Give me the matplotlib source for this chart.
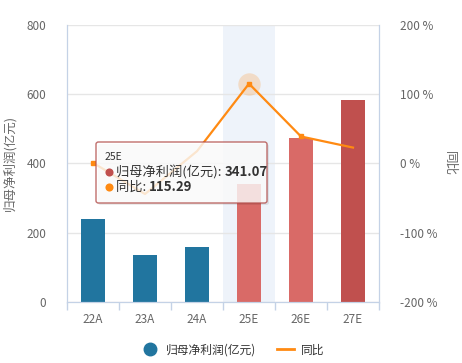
import matplotlib
matplotlib.use('Agg')
import matplotlib.pyplot as plt
from matplotlib.lines import Line2D
from matplotlib.patches import FancyBboxPatch
import numpy as np

plt.rcParams['font.family'] = ['Noto Sans CJK SC', 'DejaVu Sans']

# data
categories = ['22A', '23A', '24A', '25E', '26E', '27E']
profit = [240.5, 134.5, 158.4, 341.07, 474.0, 584.0]
yoy = [1.0, -44.1, 17.8, 115.29, 39.0, 23.0]
bar_colors = ['#21759f', '#21759f', '#21759f', '#d96a67', '#d96a67', '#c0504e']

line_color = '#ff8a12'
axis_color = '#c4d2e6'
grid_color = '#e6e6e6'
tick_color = '#666666'
text_color = '#333333'

W, H = 462, 363
fig = plt.figure(figsize=(W / 100, H / 100), dpi=100)
ax = fig.add_axes([67 / W, 61 / H, 312 / W, 277 / H])
ax2 = ax.twinx()

x = np.arange(len(categories))

# hover band behind 25E
ax.axvspan(2.5, 3.5, color='#eef3fa', zorder=0, lw=0)
ax.bar(x, profit, width=0.46, color=bar_colors, zorder=2)

ax.set_xlim(-0.5, len(categories) - 0.5)
ax.set_ylim(0, 800)
ax.set_yticks([0, 200, 400, 600, 800])
ax.yaxis.grid(True, color=grid_color, lw=1, zorder=1)
ax.set_axisbelow(True)
ax.set_xticks(x)
ax.set_xticklabels(categories)
ax.set_xticks(np.arange(-0.5, len(categories)), minor=True)
ax.tick_params(axis='x', which='major', length=0, pad=8, labelsize=8.5, colors=tick_color)
ax.tick_params(axis='x', which='minor', length=6, color=axis_color, width=1)
ax.tick_params(axis='y', length=0, pad=15, labelsize=8.5, colors=tick_color)
ax.set_ylabel('归母净利润(亿元)', color=tick_color, fontsize=9)
ax.yaxis.set_label_coords((16 - 67) / 312, 0.5)

for a in (ax, ax2):
    a.spines['top'].set_visible(False)
    for s in ('left', 'right', 'bottom'):
        a.spines[s].set_color(axis_color)

# yoy line on right axis
ax2.plot(x, yoy, color=line_color, lw=1.6, marker='s', markersize=3.5,
         markevery=[0, 3, 4], zorder=5)
ax2.scatter([3], [yoy[3]], s=260, color=line_color, alpha=0.22, lw=0, zorder=4)
ax2.set_ylim(-200, 200)
ax2.set_yticks([-200, -100, 0, 100, 200])
ax2.set_yticklabels([f'{v} %' for v in [-200, -100, 0, 100, 200]])
ax2.tick_params(axis='y', length=0, pad=15, labelsize=8.5, colors=tick_color)
ax2.set_ylabel('同比', color=tick_color, fontsize=9, rotation=270, va='center')
ax2.yaxis.set_label_coords((450 - 67) / 312, 0.5)


def fx(px):
    return (px - 67) / 312


def fy(py):
    return (302 - py) / 277


# tooltip
tx0, ty1, tw, th = 96, 203, 171, 61
shadow = FancyBboxPatch((fx(tx0 + 2), fy(ty1 + 2)), tw / 312, th / 277,
                        boxstyle='round,pad=0,rounding_size=0.008',
                        transform=ax.transAxes, facecolor='#000000', alpha=0.08,
                        lw=0, zorder=9)
ax2.add_patch(shadow)
box = FancyBboxPatch((fx(tx0), fy(ty1)), tw / 312, th / 277,
                     boxstyle='round,pad=0,rounding_size=0.008',
                     transform=ax.transAxes, facecolor='white', alpha=0.8,
                     edgecolor='#b04a47', lw=1, zorder=10)
ax2.add_patch(box)

ax2.text(fx(105), fy(157), '25E', transform=ax.transAxes, fontsize=7.5,
         color=text_color, va='center', ha='left', zorder=11)
rows = [('归母净利润(亿元): ', '341.07', '#c0504e', 172),
        ('同比: ', '115.29', line_color, 187)]
for label, val, col, py in rows:
    ax2.scatter([fx(109)], [fy(py)], s=34, color=col, lw=0,
                transform=ax.transAxes, zorder=11)
    t = ax2.text(fx(116), fy(py), label, transform=ax.transAxes, fontsize=9.5,
                 color=text_color, va='center', ha='left', zorder=11)
    ax2.annotate(val, xy=(1, 0.5), xycoords=t, xytext=(0, 0),
                 textcoords='offset points', fontsize=9.5, fontweight='bold',
                 color=text_color, va='center', ha='left', zorder=11)

handles = [Line2D([], [], color='#21759f', marker='o', markersize=9, lw=0),
           Line2D([], [], color=line_color, lw=2)]
leg = fig.legend(handles, ['归母净利润(亿元)', '同比'], loc='center',
                 bbox_to_anchor=(0.505, 13 / H), ncol=2, frameon=False,
                 fontsize=8.5, handlelength=1.4, columnspacing=1.8, handletextpad=0.6)
for t in leg.get_texts():
    t.set_color(text_color)

fig.savefig('out.png', dpi=100)
